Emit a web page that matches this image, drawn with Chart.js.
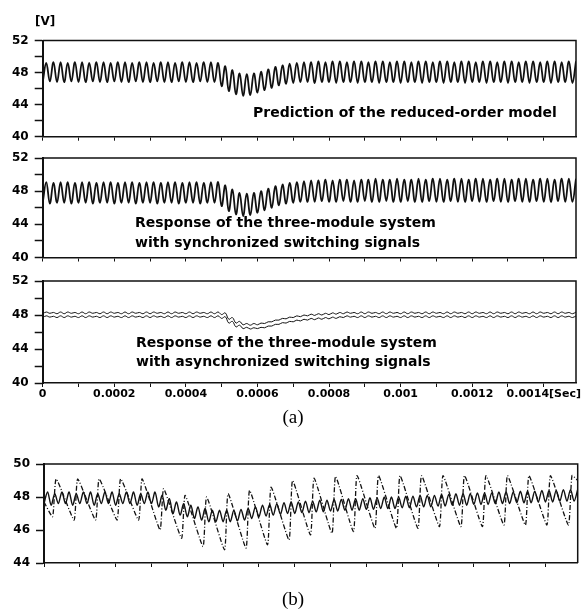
<!DOCTYPE html>
<html>
<head>
<meta charset="utf-8">
<script src="https://cdn.jsdelivr.net/npm/chart.js@4"></script>
<style>
  html, body { margin: 0; padding: 0; background: #fff; }
  #wrap { position: relative; width: 583px; height: 610px; overflow: hidden; }
  canvas { position: absolute; left: 0; }
</style>
</head>
<body>
<div id="wrap">
  <canvas id="c1"></canvas>
  <canvas id="c2"></canvas>
  <canvas id="c3"></canvas>
  <canvas id="c4"></canvas>
</div>
<script>
// time grid: one sample every 10 us, ripple period 20 us (trough then peak)
const sampleStep = 1e-5;
const tEnd = 0.00149;
const xTickValues = [0, 0.0001, 0.0002, 0.0003, 0.0004, 0.0005, 0.0006, 0.0007, 0.0008,
                     0.0009, 0.001, 0.0011, 0.0012, 0.0013, 0.0014];
const xTickLabels = ['0', '', '0.0002', '', '0.0004', '', '0.0006', '', '0.0008',
                     '', '0.001', '', '0.0012', '', '0.0014[Sec]'];
const yTicksA = [40, 42, 44, 46, 48, 50, 52];
const yLabelsA = ['40', '', '44', '', '48', '', '52'];
const yTicksB = [44, 46, 48, 50];

// (a) top: prediction of the reduced-order model
const predLow = [46.8,46.9,46.8,46.8,46.9,46.8,46.8,46.9,46.8,46.8,
  46.9,46.8,46.8,46.9,46.8,46.8,46.9,46.8,46.8,46.9,
  46.8,46.8,46.9,46.8,46.8,
  46.3,45.7,45.3,45.1,45.2,45.5,45.8,46.1,46.4,46.6,46.7,46.8,
  46.8,46.7,46.8,46.8,46.7,46.8,46.8,46.7,46.8,46.8,
  46.7,46.8,46.8,46.7,46.8,46.8,46.7,46.8,46.8,46.7,
  46.8,46.8,46.7,46.8,46.8,46.7,46.8,46.8,46.7,46.8,
  46.8,46.7,46.8,46.8,46.7,46.8,46.8,46.7];
const predPeak = [49.2,49.3,49.3,49.2,49.3,49.3,49.2,49.3,49.3,49.2,
  49.3,49.3,49.2,49.3,49.3,49.2,49.3,49.3,49.2,49.3,
  49.3,49.2,49.3,49.3,49.2,
  48.8,48.3,47.9,47.8,47.9,48.1,48.4,48.7,48.9,49.1,49.2,49.3,
  49.3,49.4,49.3,49.4,49.4,49.3,49.4,49.4,49.3,49.4,
  49.4,49.3,49.4,49.4,49.3,49.4,49.4,49.3,49.4,49.4,
  49.3,49.4,49.4,49.3,49.4,49.4,49.3,49.4,49.4,49.3,
  49.4,49.4,49.3,49.4,49.4,49.3,49.4,49.4];

// (a) middle: three-module system, synchronized switching
const syncLow = [46.6,46.5,46.6,46.6,46.5,46.6,46.6,46.5,46.6,46.6,
  46.5,46.6,46.6,46.5,46.6,46.6,46.5,46.6,46.6,46.5,
  46.6,46.6,46.5,46.6,46.6,
  46.2,45.6,45.2,45.0,45.1,45.4,45.7,46.0,46.3,46.5,46.6,46.7,
  46.7,46.7,46.8,46.7,46.7,46.8,46.7,46.7,46.8,46.7,
  46.7,46.8,46.7,46.7,46.8,46.7,46.7,46.8,46.7,46.7,
  46.8,46.7,46.7,46.8,46.7,46.7,46.8,46.7,46.7,46.8,
  46.7,46.7,46.8,46.7,46.7,46.8,46.7,46.7];
const syncPeak = [49.1,49.0,49.1,49.1,49.0,49.1,49.1,49.0,49.1,49.1,
  49.0,49.1,49.1,49.0,49.1,49.1,49.0,49.1,49.1,49.0,
  49.1,49.1,49.0,49.1,49.1,
  48.7,48.2,47.8,47.7,47.8,48.0,48.3,48.6,48.8,49.0,49.1,49.2,
  49.3,49.3,49.4,49.3,49.4,49.4,49.3,49.4,49.4,49.5,
  49.4,49.4,49.5,49.4,49.4,49.5,49.4,49.5,49.5,49.4,
  49.5,49.5,49.4,49.5,49.5,49.4,49.5,49.5,49.4,49.5,
  49.5,49.4,49.5,49.5,49.4,49.5,49.5,49.5];

// (a) bottom: asynchronized switching, two traces
const asyncHiLow = [48.15,48.2,48.15,48.15,48.2,48.15,48.15,48.2,48.15,48.15,
  48.2,48.15,48.15,48.2,48.15,48.15,48.2,48.15,48.15,48.2,
  48.15,48.15,48.2,48.15,48.15,
  48.05,47.5,47.05,46.85,46.8,46.85,47.0,47.2,47.4,47.55,47.7,47.8,47.9,47.95,48.0,48.05,48.1,
  48.15,48.2,48.15,48.15,48.2,48.15,48.15,48.2,48.15,48.15,
  48.2,48.15,48.15,48.2,48.15,48.15,48.2,48.15,48.15,48.2,
  48.15,48.15,48.2,48.15,48.15,48.2,48.15,48.15,48.2,48.15,
  48.15,48.2,48.15];
const asyncHiPeak = [48.35,48.3,48.35,48.35,48.3,48.35,48.35,48.3,48.35,48.35,
  48.3,48.35,48.35,48.3,48.35,48.35,48.3,48.35,48.35,48.3,
  48.35,48.35,48.3,48.35,48.35,
  48.25,47.7,47.25,47.0,47.0,47.05,47.2,47.4,47.6,47.75,47.9,48.0,48.1,48.15,48.2,48.25,48.3,
  48.35,48.3,48.35,48.35,48.3,48.35,48.35,48.3,48.35,48.35,
  48.3,48.35,48.35,48.3,48.35,48.35,48.3,48.35,48.35,48.3,
  48.35,48.35,48.3,48.35,48.35,48.3,48.35,48.35,48.3,48.35,
  48.35,48.3,48.35];
const asyncLoLow = [47.7,47.75,47.7,47.7,47.75,47.7,47.7,47.75,47.7,47.7,
  47.75,47.7,47.7,47.75,47.7,47.7,47.75,47.7,47.7,47.75,
  47.7,47.7,47.75,47.7,47.7,
  47.6,47.05,46.6,46.4,46.35,46.4,46.5,46.7,46.9,47.05,47.2,47.3,47.4,47.45,47.5,47.55,47.6,
  47.7,47.75,47.7,47.7,47.75,47.7,47.7,47.75,47.7,47.7,
  47.75,47.7,47.7,47.75,47.7,47.7,47.75,47.7,47.7,47.75,
  47.7,47.7,47.75,47.7,47.7,47.75,47.7,47.7,47.75,47.7,
  47.7,47.75,47.7];
const asyncLoPeak = [47.9,47.85,47.9,47.9,47.85,47.9,47.9,47.85,47.9,47.9,
  47.85,47.9,47.9,47.85,47.9,47.9,47.85,47.9,47.9,47.85,
  47.9,47.9,47.85,47.9,47.9,
  47.8,47.25,46.8,46.55,46.5,46.55,46.7,46.9,47.1,47.25,47.4,47.5,47.6,47.65,47.7,47.75,47.8,
  47.9,47.85,47.9,47.9,47.85,47.9,47.9,47.85,47.9,47.9,
  47.85,47.9,47.9,47.85,47.9,47.9,47.85,47.9,47.9,47.85,
  47.9,47.9,47.85,47.9,47.9,47.85,47.9,47.9,47.85,47.9,
  47.9,47.85,47.9];

// (b) solid: output ripple; dashed: one module, period 60 us
const solidPeak = [48.3,48.2,48.3,48.3,48.2,48.3,48.3,48.2,48.3,48.3,48.2,48.3,48.3,48.2,48.3,48.3,
  48.1,47.9,47.7,47.6,47.5,47.4,47.3,47.2,47.2,47.2,47.2,47.25,
  47.3,47.4,47.5,47.55,47.6,47.65,47.7,47.7,47.75,47.75,
  47.8,47.8,47.85,47.85,47.9,47.9,47.9,47.95,47.95,48.0,
  48.0,48.0,48.05,48.05,48.1,48.1,48.1,48.15,48.15,48.2,
  48.2,48.2,48.25,48.25,48.25,48.3,48.3,48.3,48.35,48.35,
  48.35,48.4,48.4,48.4,48.45,48.45,48.45];
const solidLow = [47.6,47.5,47.6,47.6,47.5,47.6,47.6,47.5,47.6,47.6,47.5,47.6,47.6,47.5,47.6,47.6,
  47.4,47.2,47.0,46.9,46.8,46.7,46.6,46.5,46.5,46.5,46.5,46.55,
  46.6,46.7,46.8,46.85,46.9,46.95,47.0,47.0,47.05,47.05,
  47.1,47.1,47.15,47.15,47.2,47.2,47.2,47.25,47.25,47.3,
  47.3,47.3,47.35,47.35,47.4,47.4,47.4,47.45,47.45,47.5,
  47.5,47.5,47.55,47.55,47.55,47.6,47.6,47.6,47.65,47.65,
  47.65,47.7,47.7,47.7,47.75,47.75,47.75];
const dashFirstLow = 2.4e-5, dashPeriod = 6e-5, dashRise = 1.0e-5;
const dashStart = 47.7, dashEnd = 49.0;
const dashLow = [46.8,46.6,46.6,46.6,46.6, 46.0,45.5,45.0,44.8,44.9,
  45.1,45.4,45.7,45.8,45.9, 46.1,46.1,46.1,46.2,46.2, 46.2,46.3,46.3,46.3,46.3];
const dashTop = [49.1,49.1,49.1,49.1,49.1, 48.5,48.1,48.0,48.2,48.4,
  48.6,49.0,49.15,49.25,49.3, 49.3,49.3,49.3,49.3,49.3, 49.3,49.3,49.3,49.3,49.3];

function ripple(lows, peaks) {
  const pts = [];
  lows.forEach((v, k) => {
    pts.push({ x: 2 * k * sampleStep, y: v });
    pts.push({ x: (2 * k + 1) * sampleStep, y: peaks[k] });
  });
  return pts;
}

function sawtooth() {
  const pts = [{ x: 0, y: dashStart }];
  dashLow.forEach((v, j) => {
    pts.push({ x: dashFirstLow + j * dashPeriod, y: v });
    pts.push({ x: dashFirstLow + dashRise + j * dashPeriod, y: dashTop[j] });
  });
  pts.push({ x: tEnd, y: dashEnd });
  return pts;
}

Chart.defaults.font.family = "'DejaVu Sans', sans-serif";
Chart.defaults.font.weight = 'bold';
Chart.defaults.font.size = 12;
Chart.defaults.color = '#000';

const framePlugin = {
  id: 'frame',
  afterDatasetsDraw(chart) {
    const { ctx, chartArea: a } = chart;
    ctx.save();
    ctx.strokeStyle = '#111';
    ctx.lineWidth = 1.5;
    ctx.beginPath();
    ctx.moveTo(a.left, a.top);
    ctx.lineTo(a.right, a.top);
    ctx.lineTo(a.right, a.bottom);
    ctx.stroke();
    ctx.restore();
  }
};

const notesPlugin = {
  id: 'notes',
  afterDraw(chart, args, opts) {
    const ctx = chart.ctx;
    ctx.save();
    ctx.fillStyle = '#000';
    ctx.textBaseline = 'middle';
    (opts.items || []).forEach(n => {
      ctx.font = n.font;
      ctx.textAlign = n.align || 'left';
      ctx.fillText(n.text, n.x, n.y - opts.top);
    });
    ctx.restore();
  }
};

const noteFont = "bold 14px 'DejaVu Sans'";
const capFont = "19px 'Liberation Serif'";

function panel(id, p) {
  const cv = document.getElementById(id);
  cv.style.top = p.top + 'px';
  cv.width = 583;
  cv.height = p.height;
  const [left, top, right, bottom] = p.area;
  return new Chart(cv, {
    type: 'line',
    data: { datasets: p.datasets },
    options: {
      responsive: false,
      animation: false,
      events: [],
      layout: {
        padding: { left: 0, right: 583 - right, top: top - p.top, bottom: p.top + p.height - bottom - p.xHeight }
      },
      elements: { point: { radius: 0 } },
      plugins: {
        legend: { display: false },
        tooltip: { enabled: false },
        notes: { top: p.top, items: p.notes || [] }
      },
      scales: {
        x: {
          type: 'linear', min: 0, max: tEnd,
          afterBuildTicks: s => { s.ticks = xTickValues.map(v => ({ value: v })); },
          afterFit: s => { s.height = p.xHeight; },
          ticks: {
            display: !!p.xLabels, autoSkip: false, maxRotation: 0, padding: 1,
            font: { size: 11 },
            callback: (v, i) => xTickLabels[i]
          },
          grid: { drawOnChartArea: false, drawTicks: true, tickLength: 4, color: '#111' },
          border: { display: true, color: '#111', width: 1.5 }
        },
        y: {
          min: p.yMin, max: p.yMax,
          afterBuildTicks: s => { s.ticks = p.yTicks.map(v => ({ value: v })); },
          afterFit: s => { s.width = left; },
          ticks: { autoSkip: false, padding: 6, callback: (v, i) => p.yLabels[i] },
          grid: { drawOnChartArea: false, drawTicks: true, tickLength: 8, color: '#111', tickWidth: 1.5 },
          border: { display: true, color: '#111', width: 2 }
        }
      }
    },
    plugins: [framePlugin, notesPlugin]
  });
}

const waveStyle = { borderColor: '#111', borderWidth: 1.8, tension: 0.4, fill: false };
const thinStyle = { borderColor: '#111', borderWidth: 1, tension: 0.4, fill: false };

panel('c1', {
  top: 0, height: 150, area: [42.7, 40.5, 576, 136.7], xHeight: 5,
  yMin: 40, yMax: 52, yTicks: yTicksA, yLabels: yLabelsA,
  datasets: [{ ...waveStyle, data: ripple(predLow, predPeak) }],
  notes: [
    { text: '[V]', x: 35, y: 22, font: "bold 12px 'DejaVu Sans'" },
    { text: 'Prediction of the reduced-order model', x: 253, y: 113, font: noteFont }
  ]
});

panel('c2', {
  top: 140, height: 135, area: [42.7, 158, 576, 257.5], xHeight: 5,
  yMin: 40, yMax: 52, yTicks: yTicksA, yLabels: yLabelsA,
  datasets: [{ ...waveStyle, data: ripple(syncLow, syncPeak) }],
  notes: [
    { text: 'Response of the three-module system', x: 135, y: 223, font: noteFont },
    { text: 'with synchronized switching signals', x: 135, y: 243, font: noteFont }
  ]
});

panel('c3', {
  top: 262, height: 158, area: [42.7, 281, 576, 383], xHeight: 20, xLabels: true,
  yMin: 40, yMax: 52, yTicks: yTicksA, yLabels: yLabelsA,
  datasets: [
    { ...thinStyle, data: ripple(asyncHiLow, asyncHiPeak) },
    { ...thinStyle, data: ripple(asyncLoLow, asyncLoPeak) }
  ],
  notes: [
    { text: 'Response of the three-module system', x: 136, y: 343, font: noteFont },
    { text: 'with asynchronized switching signals', x: 136, y: 362, font: noteFont }
  ]
});

panel('c4', {
  top: 400, height: 210, area: [44, 464, 577.7, 563], xHeight: 5,
  yMin: 44, yMax: 50, yTicks: yTicksB, yLabels: yTicksB.map(String),
  datasets: [
    { ...waveStyle, borderWidth: 1.4, tension: 0.3, data: ripple(solidLow, solidPeak) },
    { borderColor: '#111', borderWidth: 1.3, borderDash: [5, 2, 1, 2], tension: 0.15,
      fill: false, data: sawtooth() }
  ],
  notes: [
    { text: '(a)', x: 293, y: 418, font: capFont, align: 'center' },
    { text: '(b)', x: 293, y: 600, font: capFont, align: 'center' }
  ]
});
</script>
</body>
</html>
